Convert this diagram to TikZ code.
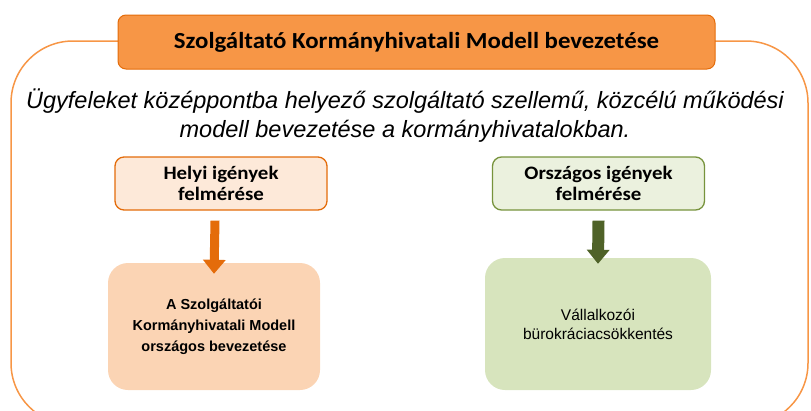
\documentclass[tikz,border=0pt]{standalone}
\usepackage{fontspec}
\setmainfont{Carlito}
\newfontfamily\arialfont{Liberation Sans}
\usetikzlibrary{arrows.meta}
\definecolor{orangeline}{HTML}{F79646}
\definecolor{orangedark}{HTML}{E46C0A}
\definecolor{orangepale}{HTML}{FDE9D9}
\definecolor{orangesoft}{HTML}{FBD4B4}
\definecolor{greenline}{HTML}{77933C}
\definecolor{greenpale}{HTML}{EBF1DE}
\definecolor{greensoft}{HTML}{D7E4BD}
\definecolor{greendark}{HTML}{4F6228}
\begin{document}
\begin{tikzpicture}[x=1pt,y=-1pt,
	titlebox/.style={draw=orangedark,fill=orangeline,line width=1pt,rounded corners=8pt,
		minimum width=597pt,minimum height=54pt,font=\bfseries\fontsize{23}{25}\selectfont},
	needbox/.style={line width=1.3pt,rounded corners=9pt,minimum width=212pt,minimum height=53pt,
		align=center,font=\bfseries\fontsize{19}{21}\selectfont},
	goalbox/.style={rounded corners=20pt,minimum width=212pt,minimum height=128pt,align=center},
	blockarrow/.style={line width=#1,-{Triangle[width=22pt,length=14pt]}}]
\useasboundingbox (0,0) rectangle (811,410);
\clip (0,0) rectangle (811,410);
\draw[orangeline,line width=1.5pt,rounded corners=62pt] (11,41) rectangle (808,425);
\node[titlebox] (title) at (416.5,42) {\scalebox{1.08}[1]{Szolgáltató Kormányhivatali Modell bevezetése}};
\node[font=\arialfont\itshape\fontsize{23.5}{29}\selectfont,align=center] (goal) at (405,116)
	{Ügyfeleket középpontba helyező szolgáltató szellemű, közcélú működési\\
	 modell bevezetése a kormányhivatalokban.};
\node[needbox,draw=orangedark,fill=orangepale] (helyi) at (221,183.5) {\scalebox{1.1}[1]{Helyi igények}\\\scalebox{1.1}[1]{felmérése}};
\node[needbox,draw=greenline,fill=greenpale] (orszagos) at (598.5,183.5) {\scalebox{1.1}[1]{Országos igények}\\\scalebox{1.1}[1]{felmérése}};
\node[goalbox,fill=orangesoft,minimum height=127pt,font=\arialfont\bfseries\fontsize{14.5}{21}\selectfont]
	(modell) at (214,326.5) {A Szolgáltatói\\Kormányhivatali Modell\\országos bevezetése};
\node[goalbox,fill=greensoft,minimum width=226pt,minimum height=132pt,font=\arialfont\fontsize{15.5}{19}\selectfont]
	(vallalkozoi) at (598,324) {Vállalkozói\\bürokráciacsökkentés};
\draw[orangedark,blockarrow=9pt] ([xshift=-6pt]helyi.south) ++(0,10) -- ([yshift=-11pt]modell.north);
\draw[greendark,blockarrow=12pt] (orszagos.south) ++(0,10) -- ([yshift=-6pt]vallalkozoi.north);
\end{tikzpicture}
\end{document}
